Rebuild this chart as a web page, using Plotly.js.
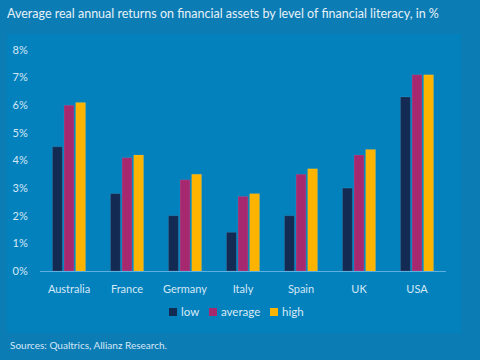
<!DOCTYPE html>
<html><head><meta charset="utf-8">
<script src="https://cdn.plot.ly/plotly-3.0.1.min.js"></script>
<style>html,body{margin:0;padding:0;background:#0c7cb5;}#chart{width:480px;height:360px;}</style>
</head><body><div id="chart"></div>
<script>
const countries = ["Australia","France","Germany","Italy","Spain","UK","USA"];
const low = [4.5, 2.8, 2.0, 1.4, 2.0, 3.0, 6.3];
const average = [6.0, 4.1, 3.3, 2.7, 3.5, 4.2, 7.1];
const high = [6.1, 4.2, 3.5, 2.8, 3.7, 4.4, 7.1];
const seriesNames = ["low","average","high"];
const colors = ["#132b53","#a6296f","#fdb400"];
const tickVals = [0,1,2,3,4,5,6,7,8];
const tickText = ["0%","1%","2%","3%","4%","5%","6%","7%","8%"];

const fontFam = "Lato, 'Open Sans', sans-serif";
const data = [low, average, high].map((v,i)=>({
  type:'bar', x:countries, y:v, name:seriesNames[i],
  marker:{color:colors[i], line:{color:'rgba(255,255,255,0.15)', width:0.6}},
  hoverinfo:'skip', showlegend:false
}));
const L=40, R=34, T=50, B=89;
const pw = 480-L-R, ph = 360-T-B;
const px = x => (x-L)/pw, py = y => (360-B-y)/ph;

// custom compact legend (square + label), positions in pixels
const legX = [169, 209, 270];
const legY = 312;
const shapes = [{type:'rect', xref:'paper', yref:'paper', x0:px(7), x1:px(461), y0:py(333), y1:py(34),
    fillcolor:'#0381bd', line:{width:0}, layer:'below'}];
const annotations = [{text:'Sources: Qualtrics, Allianz Research.', xref:'paper', yref:'paper',
    x:px(8), y:py(345), xanchor:'left', yanchor:'middle', showarrow:false,
    font:{family:fontFam, size:10, color:'#d6e8f5'}}];
seriesNames.forEach((n,i)=>{
  shapes.push({type:'rect', xref:'paper', yref:'paper', x0:px(legX[i]), x1:px(legX[i]+8),
    y0:py(legY+4), y1:py(legY-4), fillcolor:colors[i], line:{width:0}});
  annotations.push({text:n, xref:'paper', yref:'paper', x:px(legX[i]+10), y:py(legY-0.5),
    xanchor:'left', yanchor:'middle', showarrow:false,
    font:{family:fontFam, size:11.5, color:'#dbeaf5'}});
});

const layout = {
  width:480, height:360,
  paper_bgcolor:'#0c7cb5', plot_bgcolor:'rgba(0,0,0,0)',
  margin:{l:L, r:R, t:T, b:B},
  barmode:'group', bargap:0.4, bargroupgap:0.15,
  font:{family:fontFam, color:'#cfe5f3', size:11},
  title:{text:'Average real annual returns on financial assets by level of financial literacy, in %',
    x:7/480, xref:'container', xanchor:'left', y:1, yref:'container', yanchor:'top', pad:{t:9},
    font:{family:fontFam, size:12.5, color:'#e6f1f8'}},
  showlegend:false,
  xaxis:{showgrid:false, zeroline:false, showline:true, linecolor:'#5fb0e0', linewidth:1.2,
    ticks:'outside', ticklen:8, tickcolor:'rgba(0,0,0,0)', tickfont:{size:11, color:'#d6e8f5'}, fixedrange:true},
  yaxis:{range:[0,8], tickvals:tickVals, ticktext:tickText, showgrid:false, zeroline:false, showline:false,
    ticks:'outside', ticklen:9, tickcolor:'rgba(0,0,0,0)', tickfont:{size:11, color:'#d6e8f5'}, fixedrange:true},
  shapes: shapes,
  annotations: annotations
};
Plotly.newPlot('chart', data, layout, {displayModeBar:false, staticPlot:true});
</script></body></html>
